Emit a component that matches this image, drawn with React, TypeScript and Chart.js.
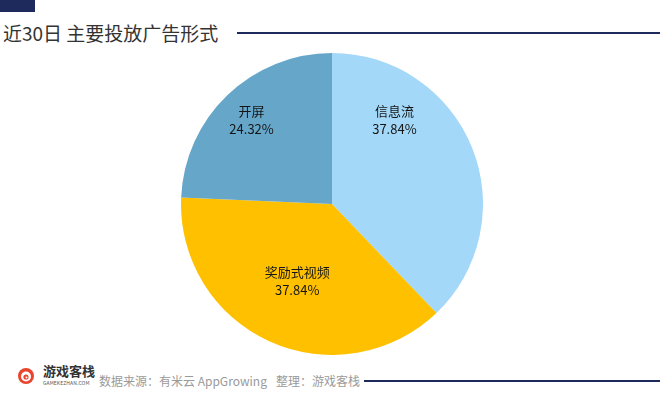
import React, { useEffect, useRef } from "react";
import { Chart, registerables } from "chart.js";

Chart.register(...registerables);

const categories = ["信息流", "奖励式视频", "开屏"];
const shares = [37.84, 37.84, 24.32];
const percentLabels = ["37.84%", "37.84%", "24.32%"];
const sliceColors = ["#a3d8f9", "#ffc000", "#66a6c9"];
// label placement within each slice: fraction along the arc, fraction of radius
const labelAngleFrac = [0.27, 0.5, 0.5];
const labelRadiusFrac = [0.69, 0.56, 0.77];

const labelPlugin = {
  id: "sliceLabels",
  afterDatasetsDraw(chart: any) {
    const ctx = chart.ctx;
    const meta = chart.getDatasetMeta(0);
    ctx.save();
    ctx.fillStyle = "#151515";
    ctx.textAlign = "center";
    ctx.textBaseline = "middle";
    ctx.font = '13px "Noto Sans CJK SC", "Noto Sans", sans-serif';
    meta.data.forEach((arc: any, i: number) => {
      const p = arc.getProps(["x", "y", "startAngle", "endAngle", "outerRadius"], true);
      const a = p.startAngle + (p.endAngle - p.startAngle) * labelAngleFrac[i];
      const r = p.outerRadius * labelRadiusFrac[i];
      const cx = p.x + Math.cos(a) * r;
      const cy = p.y + Math.sin(a) * r;
      ctx.fillText(categories[i], cx, cy - 9);
      ctx.fillText(percentLabels[i], cx, cy + 9);
    });
    ctx.restore();
  },
};

function PieChart() {
  const ref = useRef<HTMLCanvasElement | null>(null);
  useEffect(() => {
    if (!ref.current) return;
    const chart = new Chart(ref.current, {
      type: "pie",
      data: {
        labels: categories,
        datasets: [
          {
            data: shares,
            backgroundColor: sliceColors,
            borderWidth: 0,
          },
        ],
      },
      options: {
        animation: false,
        responsive: false,
        maintainAspectRatio: false,
        layout: { padding: 0 },
        plugins: {
          legend: { display: false },
          tooltip: { enabled: false },
          title: { display: false },
        },
      },
      plugins: [labelPlugin],
    });
    return () => chart.destroy();
  }, []);
  return (
    <canvas
      ref={ref}
      width={302}
      height={302}
      style={{ position: "absolute", left: 181, top: 53, width: 302, height: 302 }}
    />
  );
}

function Logo() {
  return (
    <svg width="18" height="18" viewBox="0 0 18 18" style={{ position: "absolute", left: 17, top: 367 }}>
      <circle cx="9" cy="9" r="8" fill="#e8442e" />
      <circle cx="9" cy="9.5" r="5" fill="#fff" />
      <circle cx="9" cy="10" r="2.6" fill="#e8442e" />
      <circle cx="9.5" cy="10.5" r="1" fill="#fff" />
    </svg>
  );
}

export default function App() {
  useEffect(() => {
    document.body.style.margin = "0";
  }, []);
  const font = '"Noto Sans CJK SC", "Noto Sans", sans-serif';
  return (
    <div style={{ position: "relative", width: 660, height: 395, background: "#ffffff", overflow: "hidden", fontFamily: font }}>
      <div style={{ position: "absolute", left: 0, top: 0, width: 35, height: 12, background: "#1d2a5b" }} />
      <div
        style={{
          position: "absolute",
          left: 3,
          top: 20,
          fontSize: 19,
          lineHeight: "26px",
          color: "#333333",
          whiteSpace: "nowrap",
        }}
      >
        近30日 主要投放广告形式
      </div>
      <div style={{ position: "absolute", left: 237, top: 32, width: 423, height: 2, background: "#1d2a5b" }} />
      <PieChart />
      <Logo />
      <div style={{ position: "absolute", left: 43, top: 363, fontSize: 13, fontWeight: 700, color: "#333", lineHeight: "16px", whiteSpace: "nowrap" }}>
        游戏客栈
      </div>
      <div style={{ position: "absolute", left: 43, top: 380, fontSize: 5, color: "#555", lineHeight: "6px", letterSpacing: 0.1, whiteSpace: "nowrap" }}>
        GAMEKEZHAN.COM
      </div>
      <div style={{ position: "absolute", left: 99, top: 372, fontSize: 12, color: "#9a9a9a", lineHeight: "18px", whiteSpace: "nowrap" }}>
        <span>数据来源：有米云 AppGrowing</span>
        <span style={{ marginLeft: 9 }}>整理：游戏客栈</span>
      </div>
      <div style={{ position: "absolute", left: 364, top: 380, width: 296, height: 2, background: "#1d2a5b" }} />
    </div>
  );
}
